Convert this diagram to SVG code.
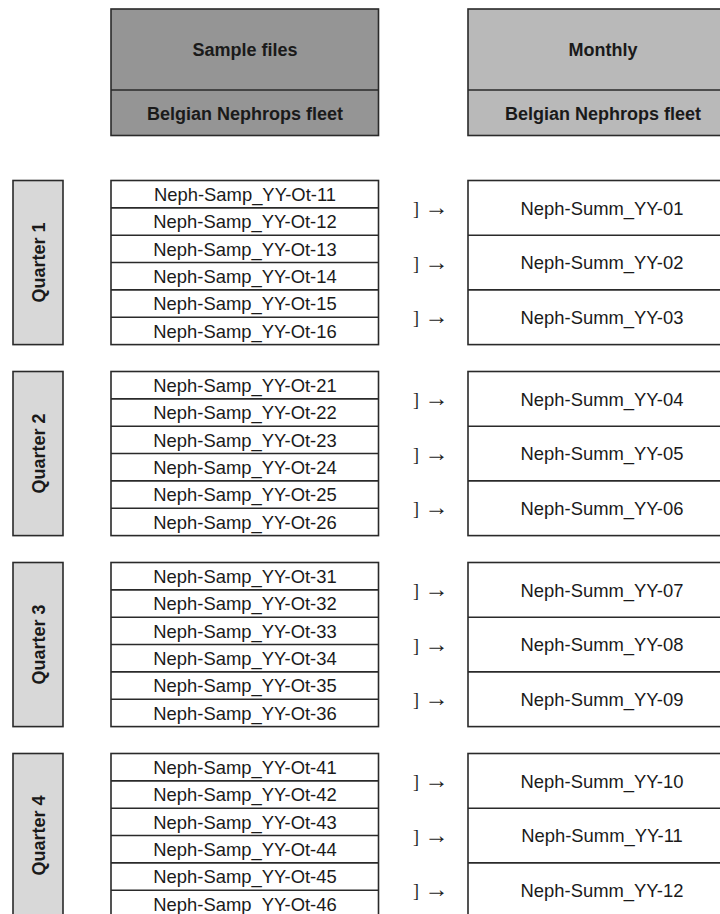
<svg xmlns="http://www.w3.org/2000/svg" width="720" height="914" viewBox="0 0 720 914">
<style>
.bx{stroke:#2a2a2a;stroke-width:1.6}
.hd{font-family:"Liberation Sans",Arial,sans-serif;font-weight:bold;font-size:18px;fill:#1a1a1a;text-anchor:middle}
.q{fill:#d8d8d8}
.w{fill:#ffffff}
.t{font-family:"Liberation Sans",Arial,sans-serif;font-size:18.4px;fill:#1a1a1a;text-anchor:middle}
.br{font-family:"Liberation Serif","Times New Roman",serif;font-size:18px;fill:#222222}
.ar{font-family:"Liberation Serif","Times New Roman",serif;font-size:24px;fill:#222222}
</style>
<rect width="720" height="914" fill="#ffffff"/>
<g id="header-sample">
<rect class="bx" x="111" y="9" width="267.5" height="126.5" fill="#959595"/>
<line class="bx" x1="111" y1="90" x2="378.5" y2="90"/>
<text class="hd" x="245" y="56">Sample files</text>
<text class="hd" x="245" y="119.5">Belgian Nephrops fleet</text>
</g>
<g id="header-monthly">
<rect class="bx" x="468" y="9" width="270" height="126.5" fill="#b9b9b9"/>
<line class="bx" x1="468" y1="90" x2="738" y2="90"/>
<text class="hd" x="603" y="56">Monthly</text>
<text class="hd" x="603" y="119.5">Belgian Nephrops fleet</text>
</g>

<g id="quarter1">
<rect class="bx q" x="13" y="180.5" width="50" height="164.1"/>
<text class="hd" transform="translate(44.5,262.5) rotate(-90)">Quarter 1</text>
</g>
<g id="samples-q1">
<rect class="bx w" x="111" y="180.5" width="267.5" height="164.1"/>
<line class="bx" x1="111" y1="207.85" x2="378.5" y2="207.85"/>
<line class="bx" x1="111" y1="235.2" x2="378.5" y2="235.2"/>
<line class="bx" x1="111" y1="262.55" x2="378.5" y2="262.55"/>
<line class="bx" x1="111" y1="289.9" x2="378.5" y2="289.9"/>
<line class="bx" x1="111" y1="317.25" x2="378.5" y2="317.25"/>
<text class="t" x="245" y="201">Neph-Samp_YY-Ot-11</text>
<text class="t" x="245" y="228.35">Neph-Samp_YY-Ot-12</text>
<text class="t" x="245" y="255.7">Neph-Samp_YY-Ot-13</text>
<text class="t" x="245" y="283.05">Neph-Samp_YY-Ot-14</text>
<text class="t" x="245" y="310.4">Neph-Samp_YY-Ot-15</text>
<text class="t" x="245" y="337.75">Neph-Samp_YY-Ot-16</text>
</g>
<g id="monthly-q1">
<rect class="bx w" x="468" y="180.5" width="270" height="164.1"/>
<line class="bx" x1="468" y1="235.2" x2="738" y2="235.2"/>
<line class="bx" x1="468" y1="289.9" x2="738" y2="289.9"/>
<text class="t" x="602" y="214.5">Neph-Summ_YY-01</text>
<text class="t" x="602" y="269.2">Neph-Summ_YY-02</text>
<text class="t" x="602" y="323.9">Neph-Summ_YY-03</text>
</g>

<g id="quarter2">
<rect class="bx q" x="13" y="371.5" width="50" height="164.1"/>
<text class="hd" transform="translate(44.5,453.5) rotate(-90)">Quarter 2</text>
</g>
<g id="samples-q2">
<rect class="bx w" x="111" y="371.5" width="267.5" height="164.1"/>
<line class="bx" x1="111" y1="398.85" x2="378.5" y2="398.85"/>
<line class="bx" x1="111" y1="426.2" x2="378.5" y2="426.2"/>
<line class="bx" x1="111" y1="453.55" x2="378.5" y2="453.55"/>
<line class="bx" x1="111" y1="480.9" x2="378.5" y2="480.9"/>
<line class="bx" x1="111" y1="508.25" x2="378.5" y2="508.25"/>
<text class="t" x="245" y="392">Neph-Samp_YY-Ot-21</text>
<text class="t" x="245" y="419.35">Neph-Samp_YY-Ot-22</text>
<text class="t" x="245" y="446.7">Neph-Samp_YY-Ot-23</text>
<text class="t" x="245" y="474.05">Neph-Samp_YY-Ot-24</text>
<text class="t" x="245" y="501.4">Neph-Samp_YY-Ot-25</text>
<text class="t" x="245" y="528.75">Neph-Samp_YY-Ot-26</text>
</g>
<g id="monthly-q2">
<rect class="bx w" x="468" y="371.5" width="270" height="164.1"/>
<line class="bx" x1="468" y1="426.2" x2="738" y2="426.2"/>
<line class="bx" x1="468" y1="480.9" x2="738" y2="480.9"/>
<text class="t" x="602" y="405.5">Neph-Summ_YY-04</text>
<text class="t" x="602" y="460.2">Neph-Summ_YY-05</text>
<text class="t" x="602" y="514.9">Neph-Summ_YY-06</text>
</g>

<g id="quarter3">
<rect class="bx q" x="13" y="562.5" width="50" height="164.1"/>
<text class="hd" transform="translate(44.5,644.5) rotate(-90)">Quarter 3</text>
</g>
<g id="samples-q3">
<rect class="bx w" x="111" y="562.5" width="267.5" height="164.1"/>
<line class="bx" x1="111" y1="589.85" x2="378.5" y2="589.85"/>
<line class="bx" x1="111" y1="617.2" x2="378.5" y2="617.2"/>
<line class="bx" x1="111" y1="644.55" x2="378.5" y2="644.55"/>
<line class="bx" x1="111" y1="671.9" x2="378.5" y2="671.9"/>
<line class="bx" x1="111" y1="699.25" x2="378.5" y2="699.25"/>
<text class="t" x="245" y="583">Neph-Samp_YY-Ot-31</text>
<text class="t" x="245" y="610.35">Neph-Samp_YY-Ot-32</text>
<text class="t" x="245" y="637.7">Neph-Samp_YY-Ot-33</text>
<text class="t" x="245" y="665.05">Neph-Samp_YY-Ot-34</text>
<text class="t" x="245" y="692.4">Neph-Samp_YY-Ot-35</text>
<text class="t" x="245" y="719.75">Neph-Samp_YY-Ot-36</text>
</g>
<g id="monthly-q3">
<rect class="bx w" x="468" y="562.5" width="270" height="164.1"/>
<line class="bx" x1="468" y1="617.2" x2="738" y2="617.2"/>
<line class="bx" x1="468" y1="671.9" x2="738" y2="671.9"/>
<text class="t" x="602" y="596.5">Neph-Summ_YY-07</text>
<text class="t" x="602" y="651.2">Neph-Summ_YY-08</text>
<text class="t" x="602" y="705.9">Neph-Summ_YY-09</text>
</g>

<g id="quarter4">
<rect class="bx q" x="13" y="753.5" width="50" height="164.1"/>
<text class="hd" transform="translate(44.5,835.5) rotate(-90)">Quarter 4</text>
</g>
<g id="samples-q4">
<rect class="bx w" x="111" y="753.5" width="267.5" height="164.1"/>
<line class="bx" x1="111" y1="780.85" x2="378.5" y2="780.85"/>
<line class="bx" x1="111" y1="808.2" x2="378.5" y2="808.2"/>
<line class="bx" x1="111" y1="835.55" x2="378.5" y2="835.55"/>
<line class="bx" x1="111" y1="862.9" x2="378.5" y2="862.9"/>
<line class="bx" x1="111" y1="890.25" x2="378.5" y2="890.25"/>
<text class="t" x="245" y="774">Neph-Samp_YY-Ot-41</text>
<text class="t" x="245" y="801.35">Neph-Samp_YY-Ot-42</text>
<text class="t" x="245" y="828.7">Neph-Samp_YY-Ot-43</text>
<text class="t" x="245" y="856.05">Neph-Samp_YY-Ot-44</text>
<text class="t" x="245" y="883.4">Neph-Samp_YY-Ot-45</text>
<text class="t" x="245" y="910.75">Neph-Samp_YY-Ot-46</text>
</g>
<g id="monthly-q4">
<rect class="bx w" x="468" y="753.5" width="270" height="164.1"/>
<line class="bx" x1="468" y1="808.2" x2="738" y2="808.2"/>
<line class="bx" x1="468" y1="862.9" x2="738" y2="862.9"/>
<text class="t" x="602" y="787.5">Neph-Summ_YY-10</text>
<text class="t" x="602" y="842.2">Neph-Summ_YY-11</text>
<text class="t" x="602" y="896.9">Neph-Summ_YY-12</text>
</g>

<g id="connectors">
<text class="br" x="413" y="215">]<tspan class="ar" x="424.5">→</tspan></text>
<text class="br" x="413" y="269.7">]<tspan class="ar" x="424.5">→</tspan></text>
<text class="br" x="413" y="324.4">]<tspan class="ar" x="424.5">→</tspan></text>
<text class="br" x="413" y="406">]<tspan class="ar" x="424.5">→</tspan></text>
<text class="br" x="413" y="460.7">]<tspan class="ar" x="424.5">→</tspan></text>
<text class="br" x="413" y="515.4">]<tspan class="ar" x="424.5">→</tspan></text>
<text class="br" x="413" y="597">]<tspan class="ar" x="424.5">→</tspan></text>
<text class="br" x="413" y="651.7">]<tspan class="ar" x="424.5">→</tspan></text>
<text class="br" x="413" y="706.4">]<tspan class="ar" x="424.5">→</tspan></text>
<text class="br" x="413" y="788">]<tspan class="ar" x="424.5">→</tspan></text>
<text class="br" x="413" y="842.7">]<tspan class="ar" x="424.5">→</tspan></text>
<text class="br" x="413" y="897.4">]<tspan class="ar" x="424.5">→</tspan></text>
</g>
</svg>
